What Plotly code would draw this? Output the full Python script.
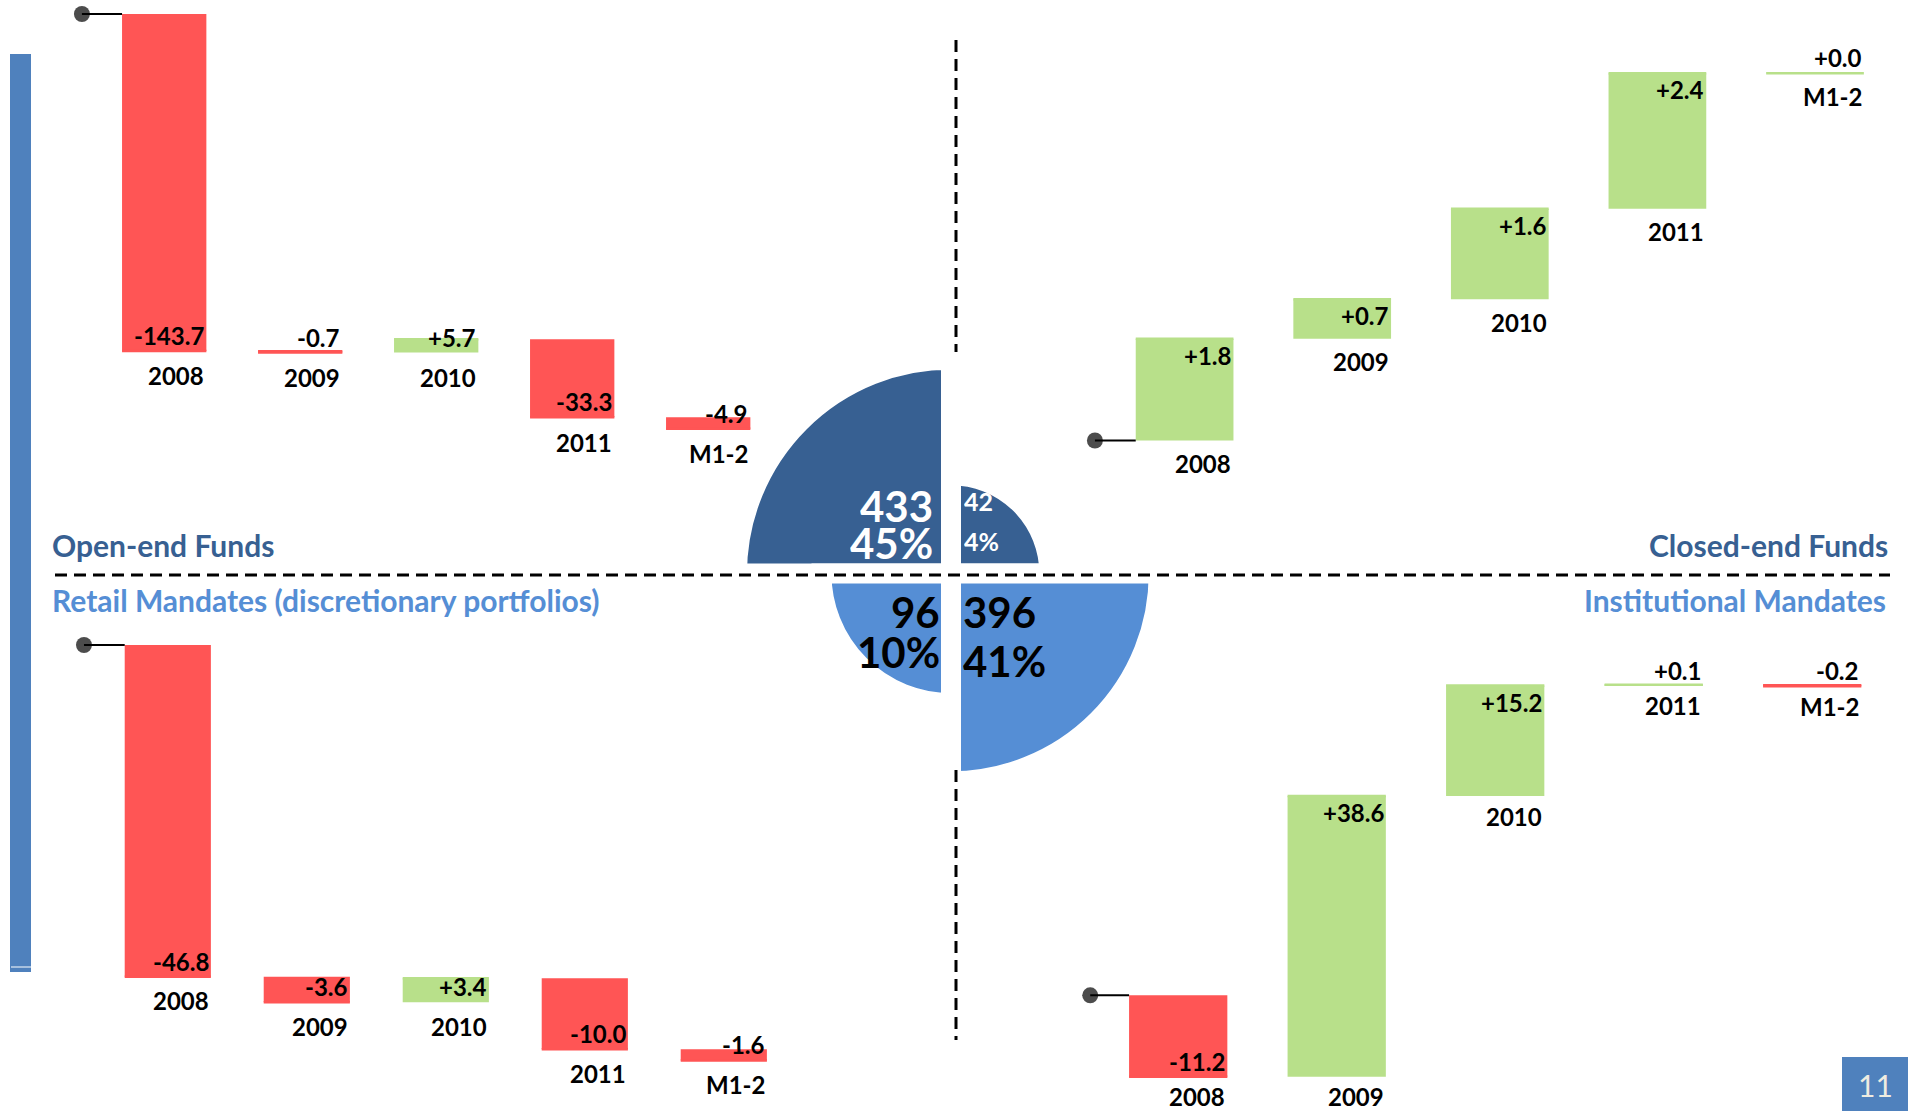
import numpy as np
import plotly.graph_objects as go

W, H = 1908, 1111

# ---------------- data ----------------
categories = ["2008", "2009", "2010", "2011", "M1-2"]

open_end_changes = [-143.7, -0.7, 5.7, -33.3, -4.9]
closed_end_changes = [1.8, 0.7, 1.6, 2.4, 0.0]
retail_changes = [-46.8, -3.6, 3.4, -10.0, -1.6]
institutional_changes = [-11.2, 38.6, 15.2, 0.1, -0.2]

segment_names = ["Open-end Funds", "Closed-end Funds",
                 "Retail Mandates (discretionary portfolios)", "Institutional Mandates"]
segment_aum = [433, 42, 96, 396]
segment_share = [45, 4, 10, 41]
page_number = "11"

# ---------------- style ----------------
RED = "#FF5555"
GREEN = "#B8E08A"
DARK_BLUE = "#376092"
LIGHT_BLUE = "#558ED5"
SIDE_BLUE = "#4F81BD"
FONT = "Lato"
BAR_W = 0.62


def px_x(px):
    return px / W


def px_y(py):
    return 1 - py / H


# layout of each waterfall panel (pixel geometry)
panels = [
    dict(changes=open_end_changes, c0=164.2, s=136.0, y0=14.0, k=2.345, dot=-0.605, lab=-25),
    dict(changes=closed_end_changes, c0=1184.6, s=157.6, y0=440.5, k=56.5, dot=-0.569, lab=-23),
    dict(changes=retail_changes, c0=167.8, s=139.0, y0=645.0, k=7.09, dot=-0.603, lab=-24),
    dict(changes=institutional_changes, c0=1178.2, s=158.5, y0=995.3, k=7.27, dot=-0.555, lab=-20),
]

fig = go.Figure()
annotations = []
layout_axes = {}

for q, cfg in enumerate(panels, start=1):
    xa = "x" if q == 1 else f"x{q}"
    ya = "y" if q == 1 else f"y{q}"
    xname = "xaxis" if q == 1 else f"xaxis{q}"
    yname = "yaxis" if q == 1 else f"yaxis{q}"

    d = np.array(cfg["changes"], dtype=float)
    ends = np.cumsum(d)
    bases = ends - d
    start = 0.0
    xs = np.arange(len(d))
    colors = [RED if v < 0 else GREEN for v in d]

    fig.add_trace(go.Bar(
        x=xs, y=d, base=bases, width=BAR_W,
        marker=dict(color=colors, line=dict(width=0)),
        xaxis=xa, yaxis=ya, showlegend=False, hoverinfo="skip",
    ))

    # thin end-caps so very small / zero changes stay visible
    for col in (RED, GREEN):
        cx, cy = [], []
        for i, v in enumerate(d):
            if colors[i] == col:
                cx += [i - BAR_W / 2, i + BAR_W / 2, None]
                cy += [ends[i], ends[i], None]
        if cx:
            fig.add_trace(go.Scatter(
                x=cx, y=cy, mode="lines", line=dict(color=col, width=2.5),
                xaxis=xa, yaxis=ya, showlegend=False, hoverinfo="skip",
            ))

    # starting point marker
    fig.add_trace(go.Scatter(
        x=[cfg["dot"], -BAR_W / 2], y=[start, start], mode="lines+markers",
        line=dict(color="black", width=2),
        marker=dict(size=[16, 0], color="black", line=dict(width=0)),
        xaxis=xa, yaxis=ya, showlegend=False, hoverinfo="skip",
    ))

    # axes: full-figure domain, ranges chosen to place the panel
    s, c0, y0, k = cfg["s"], cfg["c0"], cfg["y0"], cfg["k"]
    xax = dict(domain=[0, 1], range=[-c0 / s, (W - c0) / s], visible=False,
               fixedrange=True, anchor=ya)
    yax = dict(domain=[0, 1], range=[(y0 - H) / k + start, y0 / k + start], visible=False,
               fixedrange=True, anchor=xa)
    if q > 1:
        xax["overlaying"] = "x"
        yax["overlaying"] = "y"
    layout_axes[xname] = xax
    layout_axes[yname] = yax

    # labels
    for i, v in enumerate(d):
        lo = min(bases[i], ends[i])
        hi = max(bases[i], ends[i])
        txt = f"<b>{v:+.1f}</b>"
        if v >= 0 and abs(v) * k >= 30:
            ly, yanc, ysh = hi, "top", 0
        else:
            ly, yanc, ysh = lo, "bottom", -1
        annotations.append(dict(
            x=i + BAR_W / 2, y=ly, xref=xa, yref=ya, text=txt, showarrow=False,
            xanchor="right", yanchor=yanc, yshift=ysh,
            font=dict(family=FONT, size=24, color="black"),
        ))
        annotations.append(dict(
            x=i + BAR_W / 2, y=lo, xref=xa, yref=ya, text=f"<b>{categories[i]}</b>",
            showarrow=False, xanchor="right", yanchor="middle", yshift=cfg["lab"],
            font=dict(family=FONT, size=24, color="black"),
        ))

# ---------------- centre quarter-circle chart ----------------
R_PX = 240
CX, CY = 951.0, 573.5
RMAX = float(np.cbrt(433)) * R_PX / 214.0
fig.add_trace(go.Barpolar(
    r=np.cbrt(np.array(segment_aum, dtype=float)),
    theta=[135, 45, 225, 315], width=[90, 90, 90, 90],
    marker=dict(color=[DARK_BLUE, DARK_BLUE, LIGHT_BLUE, LIGHT_BLUE],
                line=dict(color="white", width=20)),
    showlegend=False, hoverinfo="skip",
))

pie_text = [
    # (value idx, x px, anchor, y value line, y pct line, size, color, box height)
    (0, 935, "right", 506, 543, 42, "white", 36),
    (1, 962, "left", 501, 541, 25, "white", 26),
    (2, 942, "right", 612, 652, 42, "black", 38),
    (3, 961, "left", 612, 661, 42, "black", 40),
]
for idx, xp, anc, yv, yp, sz, colr, bh in pie_text:
    annotations.append(dict(x=px_x(xp), y=px_y(yv), xref="paper", yref="paper",
                            text=f"<b>{segment_aum[idx]}</b>", showarrow=False,
                            xanchor=anc, yanchor="middle", height=bh, valign="middle",
                            font=dict(family=FONT, size=sz, color=colr)))
    annotations.append(dict(x=px_x(xp), y=px_y(yp), xref="paper", yref="paper",
                            text=f"<b>{segment_share[idx]}%</b>", showarrow=False,
                            xanchor=anc, yanchor="middle", height=bh, valign="middle",
                            font=dict(family=FONT, size=sz, color=colr)))

# ---------------- titles ----------------
title_pos = [
    (50, 545, "left", DARK_BLUE),
    (1890, 545, "right", DARK_BLUE),
    (50, 600, "left", LIGHT_BLUE),
    (1888, 600, "right", LIGHT_BLUE),
]
for name, (xp, yp, anc, colr) in zip(segment_names, title_pos):
    annotations.append(dict(x=px_x(xp), y=px_y(yp), xref="paper", yref="paper",
                            text=f"<b>{name}</b>", showarrow=False, xanchor=anc, yanchor="middle",
                            font=dict(family=FONT, size=30, color=colr)))

annotations.append(dict(x=px_x(1875), y=px_y(1085), xref="paper", yref="paper",
                        text=page_number, showarrow=False, xanchor="center", yanchor="middle",
                        font=dict(family=FONT, size=30, color="#EEECE1")))

# ---------------- shapes ----------------
shapes = [
    dict(type="rect", xref="paper", yref="paper", x0=px_x(10), x1=px_x(31),
         y0=px_y(972), y1=px_y(54), fillcolor=SIDE_BLUE, line=dict(width=0), layer="below"),
    dict(type="line", xref="paper", yref="paper", x0=px_x(11), x1=px_x(31),
         y0=px_y(967), y1=px_y(967), line=dict(color="white", width=1)),
    dict(type="rect", xref="paper", yref="paper", x0=px_x(1842), x1=px_x(1908),
         y0=px_y(1111), y1=px_y(1057), fillcolor=SIDE_BLUE, line=dict(width=0), layer="below"),
    dict(type="line", xref="paper", yref="paper", x0=px_x(55), x1=px_x(1890),
         y0=px_y(575), y1=px_y(575), line=dict(color="black", width=3, dash="12px,7px"),
         layer="above"),
    dict(type="line", xref="paper", yref="paper", x0=px_x(956), x1=px_x(956),
         y0=px_y(40), y1=px_y(352), line=dict(color="black", width=3, dash="12px,7px")),
    dict(type="line", xref="paper", yref="paper", x0=px_x(956), x1=px_x(956),
         y0=px_y(770), y1=px_y(1040), line=dict(color="black", width=3, dash="12px,7px")),
]

fig.update_layout(
    width=W, height=H,
    margin=dict(l=0, r=0, t=0, b=0),
    paper_bgcolor="white", plot_bgcolor="rgba(0,0,0,0)",
    font=dict(family=FONT),
    showlegend=False,
    barmode="overlay",
    annotations=annotations,
    shapes=shapes,
    polar=dict(
        domain=dict(x=[px_x(CX - R_PX), px_x(CX + R_PX)],
                    y=[px_y(CY + R_PX), px_y(CY - R_PX)]),
        bgcolor="rgba(0,0,0,0)",
        radialaxis=dict(visible=False, range=[0, RMAX]),
        angularaxis=dict(visible=False),
    ),
    **layout_axes,
)

fig.write_html("out.html")
